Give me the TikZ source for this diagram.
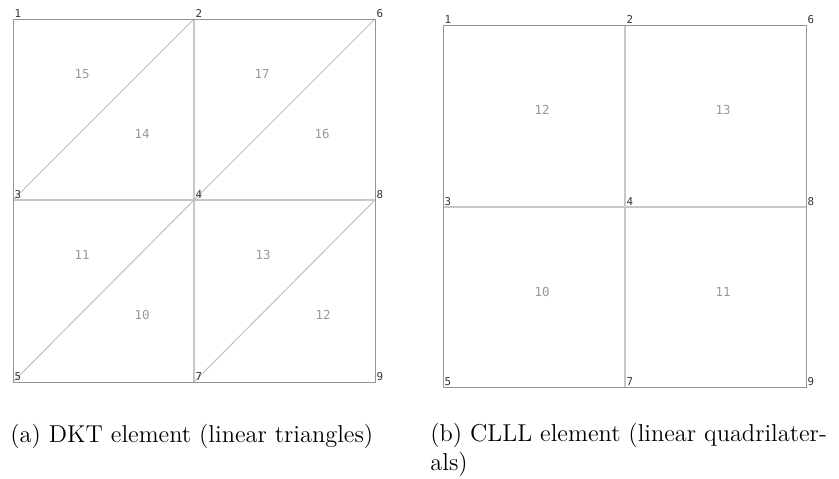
\documentclass[tikz,border=0pt]{standalone}
\usepackage{fontspec}
\newfontfamily\meshfont{DejaVu Sans Mono}

\begin{document}
\begin{tikzpicture}[x=0.5pt,y=-0.5pt,
  nodenum/.style={anchor=south west,inner sep=0.6pt,font=\meshfont\fontsize{5.4}{6}\selectfont,text=black!80},
  elemnum/.style={inner sep=0pt,font=\meshfont\fontsize{6.2}{7}\selectfont,text=black!40},
  border/.style={draw=black!42,line width=0.5pt},
  midline/.style={draw=black!22,line width=1pt},
  diagline/.style={draw=black!25,line width=0.5pt},
  capt/.style={anchor=base west,inner sep=0pt,font=\fontsize{12.2}{14.6}\selectfont}]

  \useasboundingbox (0,0) rectangle (839,478);

  % (a) DKT mesh
  \coordinate (a1) at (13,19);
  \coordinate (a2) at (194,19);
  \coordinate (a6) at (375,19);
  \coordinate (a3) at (13,200);
  \coordinate (a4) at (194,200);
  \coordinate (a8) at (375,200);
  \coordinate (a5) at (13,382);
  \coordinate (a7) at (194,382);
  \coordinate (a9) at (375,382);

  \draw[midline] (a2) -- (a7);
  \draw[midline] (a3) -- (a8);
  \draw[diagline] (a3) -- (a2);
  \draw[diagline] (a4) -- (a6);
  \draw[diagline] (a5) -- (a4);
  \draw[diagline] (a7) -- (a8);
  \draw[border] (a1) -- (a6) -- (a9) -- (a5) -- cycle;

  \node[nodenum] (na1) at (a1) {1};
  \node[nodenum] (na2) at (a2) {2};
  \node[nodenum] (na6) at (a6) {6};
  \node[nodenum] (na3) at (a3) {3};
  \node[nodenum] (na4) at (a4) {4};
  \node[nodenum] (na8) at (a8) {8};
  \node[nodenum] (na5) at (a5) {5};
  \node[nodenum] (na7) at (a7) {7};
  \node[nodenum] (na9) at (a9) {9};

  \node[elemnum] (ea15) at (82,74) {15};
  \node[elemnum] (ea14) at (142,134) {14};
  \node[elemnum] (ea17) at (262,74) {17};
  \node[elemnum] (ea16) at (322,134) {16};
  \node[elemnum] (ea11) at (82,255) {11};
  \node[elemnum] (ea10) at (142,315) {10};
  \node[elemnum] (ea13) at (263,255) {13};
  \node[elemnum] (ea12) at (323,315) {12};

  % (b) CLLL mesh
  \coordinate (b1) at (443,25);
  \coordinate (b2) at (625,25);
  \coordinate (b6) at (806,25);
  \coordinate (b3) at (443,207);
  \coordinate (b4) at (625,207);
  \coordinate (b8) at (806,207);
  \coordinate (b5) at (443,387);
  \coordinate (b7) at (625,387);
  \coordinate (b9) at (806,387);

  \draw[midline] (b2) -- (b7);
  \draw[midline] (b3) -- (b8);
  \draw[border] (b1) -- (b6) -- (b9) -- (b5) -- cycle;

  \node[nodenum] (nb1) at (b1) {1};
  \node[nodenum] (nb2) at (b2) {2};
  \node[nodenum] (nb6) at (b6) {6};
  \node[nodenum] (nb3) at (b3) {3};
  \node[nodenum] (nb4) at (b4) {4};
  \node[nodenum] (nb8) at (b8) {8};
  \node[nodenum] (nb5) at (b5) {5};
  \node[nodenum] (nb7) at (b7) {7};
  \node[nodenum] (nb9) at (b9) {9};

  \node[elemnum] (eb12) at (542,110) {12};
  \node[elemnum] (eb13) at (723,110) {13};
  \node[elemnum] (eb10) at (542,292) {10};
  \node[elemnum] (eb11) at (723,292) {11};

  % captions
  \node[capt] (capa) at (10,442) {(a) DKT element (linear triangles)};
  \node[capt] (capb) at (430,441) {(b) CLLL element (linear quadrilater-};
  \node[capt] (capb2) at (430,470) {als)};
\end{tikzpicture}
\end{document}
